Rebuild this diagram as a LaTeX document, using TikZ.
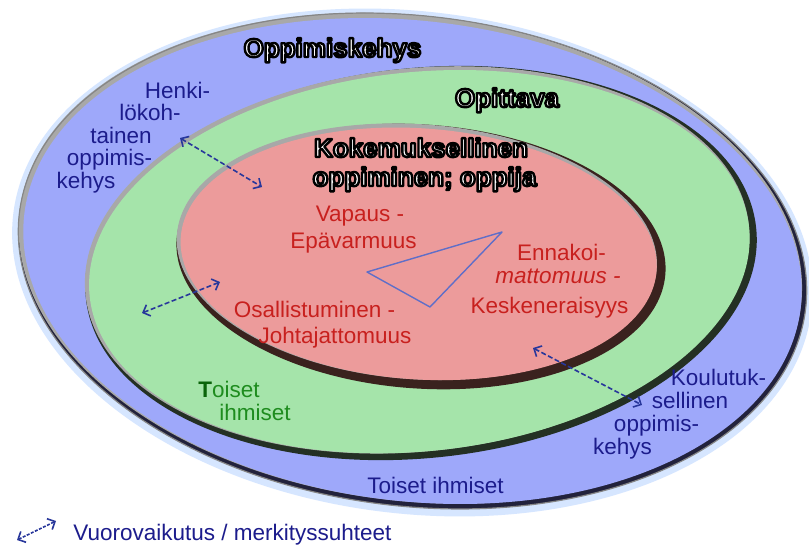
\documentclass[tikz,border=0pt]{standalone}
\usepackage{fontspec}
\setmainfont{Liberation Sans}
\usetikzlibrary{arrows.meta,calc}
\definecolor{bluefill}{RGB}{158,168,250}
\definecolor{greenfill}{RGB}{165,228,170}
\definecolor{redfill}{RGB}{236,155,155}
\definecolor{rimgray}{RGB}{168,168,168}
\definecolor{darkrimg}{RGB}{36,48,36}
\definecolor{darkrimr}{RGB}{58,34,30}
\definecolor{darkrimb}{RGB}{34,34,60}
\definecolor{navytext}{RGB}{28,28,140}
\definecolor{redtext}{RGB}{200,32,30}
\definecolor{greentext}{RGB}{30,140,30}
\definecolor{greendark}{RGB}{10,100,10}
\definecolor{arrowblue}{RGB}{40,55,155}
\definecolor{trigblue}{RGB}{95,110,200}
\definecolor{glowblue}{RGB}{214,230,255}
% #1 cx, #2 cy, #3 a, #4 b, #5 rot, #6 fill, #7 dark colour, #8 dark band, #9 gray band
\newcommand\ringlayer[9]{%
  \begin{scope}[rotate around={#5:(#1,#2)}]
    \fill[#7] (#1,#2) ellipse [x radius=#3, y radius=#4];
    \fill[rimgray] ({#1-#8/2},{#2-#8/2}) ellipse [x radius={#3-#8/2}, y radius={#4-#8/2}];
    \fill[#6] ({#1+(#9-#8)/2},{#2+(#9-#8)/2}) ellipse [x radius={#3-(#9+#8)/2}, y radius={#4-(#9+#8)/2}];
  \end{scope}}
% white letters with a black outline
\newcommand\outlinetext[1]{\textcolor{white}{\special{pdf:literal direct 0 0 0 RG 2.4 w 1 j 2 Tr}#1\special{pdf:literal direct 0 Tr}}}
\begin{document}
\begin{tikzpicture}[x=1pt,y=-1pt,
  titlefont/.style={font=\bfseries\fontsize{26}{30}\selectfont, inner sep=0pt, anchor=base},
  bluelabel/.style={font=\fontsize{22.5}{26}\selectfont, text=navytext, inner sep=0pt, anchor=base},
  redlabel/.style={font=\fontsize{22.5}{26}\selectfont, text=redtext, inner sep=0pt, anchor=base},
  greenlabel/.style={font=\fontsize{22.5}{26}\selectfont, text=greentext, inner sep=0pt, anchor=base},
  iarrow/.style={draw=arrowblue, line width=1.6pt, dash pattern=on 5pt off 2.5pt,
    {Straight Barb[length=6pt,width=12pt,line width=1.6pt]}-{Straight Barb[length=6pt,width=12pt,line width=1.6pt]}},
  trig/.style={draw=trigblue, line width=1.4pt, line join=round}]
\useasboundingbox (0,0) rectangle (809,546);
\fill[white] (0,0) rectangle (809,546);

% outer ellipse (learning frame)
\begin{scope}[rotate around={-7:(412.5,261)}]
  \fill[glowblue] (412.5,262.5) ellipse [x radius=402, y radius=251];
\end{scope}
\ringlayer{412.5}{261}{396}{245}{-7}{bluefill}{darkrimb}{5}{5}
\begin{scope}[rotate around={-7:(412.5,261)}]
  \draw[rimgray!80!black, line width=1.2pt] (412.5,261) ellipse [x radius=396, y radius=245];
\end{scope}
% middle ellipse
\ringlayer{421}{263}{337}{195}{6}{greenfill}{darkrimg}{7}{4}
% inner ellipse
\ringlayer{421}{256.5}{245}{132}{-4}{redfill}{darkrimr}{9}{4}

% titles
\node[titlefont] (titleA) at (332.5,57) {\outlinetext{Oppimiskehys}};
\node[titlefont] (titleB) at (507,107) {\outlinetext{Opittava}};
\node[titlefont] (titleC) at (421,157) {\outlinetext{Kokemuksellinen}};
\node[titlefont] (titleD) at (424.5,186) {\outlinetext{oppiminen; oppija}};

% blue labels, left
\node[bluelabel] (hk1) at (177.5,98) {Henki-};
\node[bluelabel] (hk2) at (150,120) {lökoh-};
\node[bluelabel] (hk3) at (121,143) {tainen};
\node[bluelabel] (hk4) at (109.5,165) {oppimis-};
\node[bluelabel] (hk5) at (86,188) {kehys};
% blue labels, right
\node[bluelabel] (ko1) at (718.5,385) {Koulutuk-};
\node[bluelabel] (ko2) at (690,408) {sellinen};
\node[bluelabel] (ko3) at (656.5,431) {oppimis-};
\node[bluelabel] (ko4) at (622.5,454) {kehys};
% blue bottom
\node[bluelabel] (toisetb) at (435.5,493) {Toiset ihmiset};

% green labels
\node[greenlabel] (toisetg1) at (229,397) {\textcolor{greendark}{\bfseries T}oiset};
\node[greenlabel] (toisetg2) at (255,420) {ihmiset};

% red labels
\node[redlabel] (va1) at (360,221) {Vapaus -};
\node[redlabel] (va2) at (353.5,248) {Epävarmuus};
\node[redlabel] (en1) at (561.5,260) {Ennakoi-};
\node[redlabel, font=\itshape\fontsize{22.5}{26}\selectfont] (en2) at (558,283) {mattomuus -};
\node[redlabel] (en3) at (549.5,313) {Keskeneraisyys};
\node[redlabel] (os1) at (314.5,317) {Osallistuminen -};
\node[redlabel] (os2) at (335,343) {Johtajattomuus};

% triangle
\coordinate (t1) at (367,272);
\coordinate (t2) at (502,232);
\coordinate (t3) at (430,307);
\draw[trig] (t1) -- (t2) -- (t3) -- cycle;

% interaction arrows
\coordinate (a1s) at (180,138);
\coordinate (a1e) at (262,187);
\coordinate (a2s) at (142,313);
\coordinate (a2e) at (220,282);
\coordinate (a3s) at (533,348);
\coordinate (a3e) at (642,405);
\draw[iarrow] (a1s) -- (a1e);
\draw[iarrow] (a2s) -- (a2e);
\draw[iarrow] (a3s) -- (a3e);

% legend
\coordinate (lgs) at (17,540);
\coordinate (lge) at (56,521);
\draw[iarrow, dash pattern=on 3pt off 1.5pt] (lgs) -- (lge);
\node[bluelabel] (legend) at (232.5,540) {Vuorovaikutus / merkityssuhteet};
\end{tikzpicture}
\end{document}
